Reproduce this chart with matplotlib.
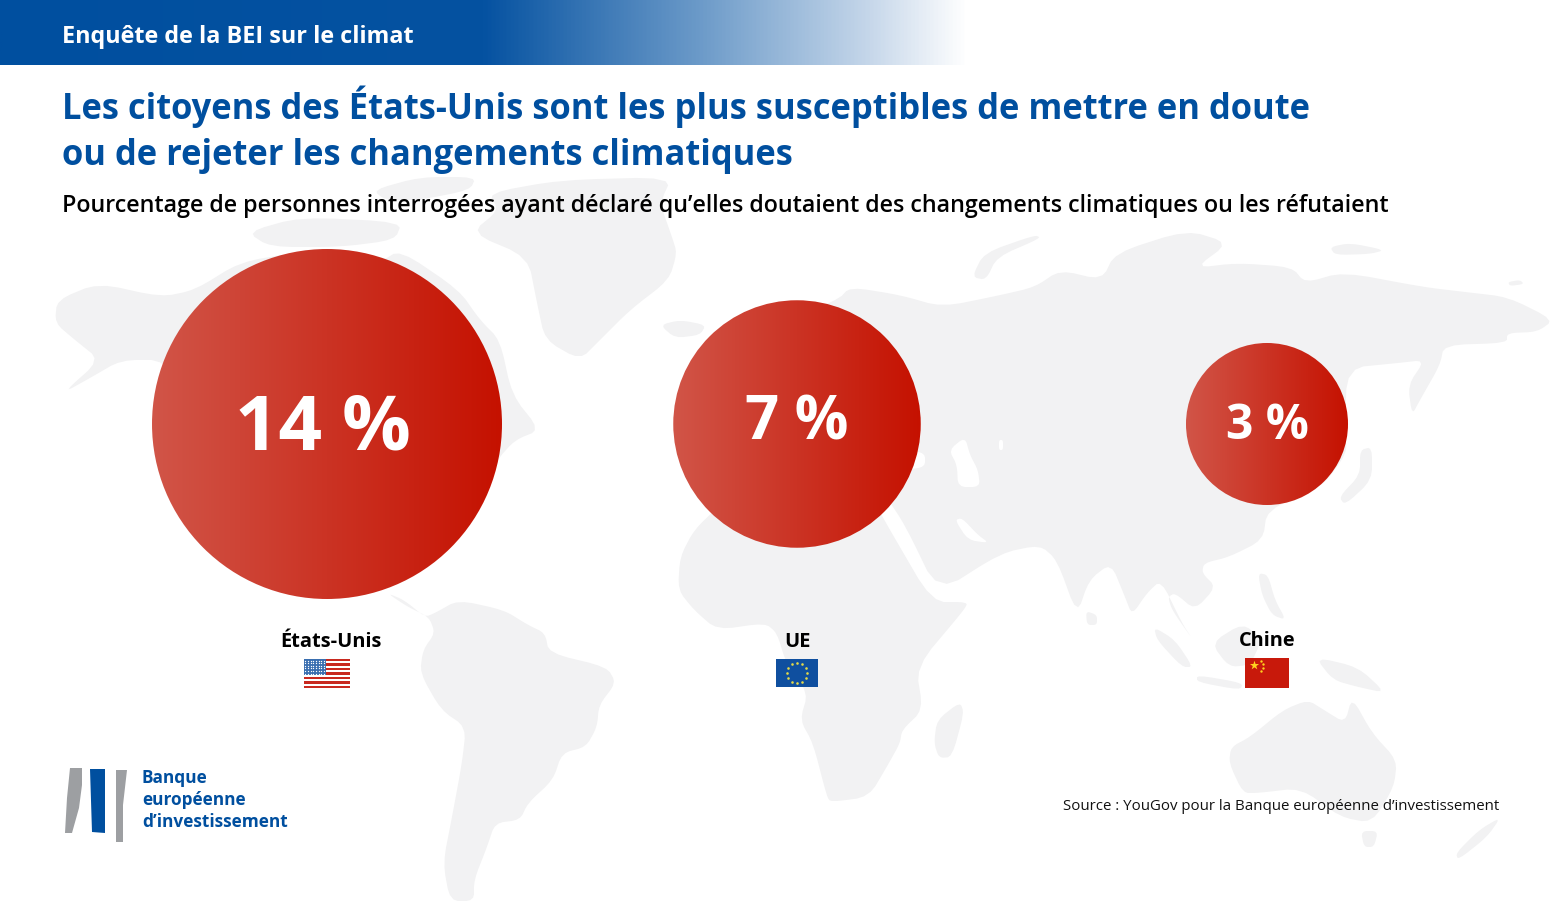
import numpy as np
import matplotlib
matplotlib.use("Agg")
import matplotlib.pyplot as plt
from matplotlib.colors import LinearSegmentedColormap
from matplotlib.patches import Circle, Polygon, Rectangle

W, H = 1561, 901
FONT = "Open Sans"

# ---- data ----
countries = ["États-Unis", "UE", "Chine"]
values = [14, 7, 3]
value_labels = ["14 %", "7 %", "3 %"]
header = "Enquête de la BEI sur le climat"
title_lines = ["Les citoyens des États-Unis sont les plus susceptibles de mettre en doute",
               "ou de rejeter les changements climatiques"]
subtitle = "Pourcentage de personnes interrogées ayant déclaré qu’elles doutaient des changements climatiques ou les réfutaient"
source = "Source : YouGov pour la Banque européenne d’investissement"
logo_lines = ["Banque", "européenne", "d’investissement"]

# ---- styles ----
BLUE = "#004f9f"
MAP = "#f2f2f3"
bubble_x = [327, 797, 1267]
bubble_y = 424
bubble_k = 46.77   # px per sqrt(percent)

# ---- decorative world map outlines (pixel space) ----
north_america = [(57,300),(98,283),(161,297),(195,290),(240,262),(300,252),(380,262),(400,250),(459,290),(480,320),
                 (500,340),(512,395),(540,430),(515,440),(497,460),(470,510),(440,560),(400,580),(383,590),(360,560),
                 (200,420),(166,360),(121,360),(90,378),(63,393),(100,360),(75,340),(55,323)]
arctic_a = [(247,232),(300,217),(402,222),(395,240),(340,247),(270,247)]
arctic_b = [(373,190),(420,177),(476,177),(470,190),(420,200),(385,200)]
greenland = [(488,193),(560,180),(672,177),(660,203),(672,237),(677,253),(669,280),(630,310),(600,340),(580,360),
             (545,340),(537,303),(528,257),(471,233),(499,210)]
iceland = [(660,325),(680,320),(706,325),(700,335),(675,338)]
central_south_america = [(387,593),(404,600),(425,617),(435,613),(458,600),(504,610),(528,625),(545,633),(549,653),
                         (607,667),(616,683),(599,705),(597,727),(586,747),(562,753),(553,780),(528,803),(520,820),
                         (495,823),(487,847),(474,880),(474,901),(450,901),(443,863),(452,817),(462,763),(466,727),
                         (441,710),(420,673),(423,650),(435,633),(429,617),(408,607)]
africa = [(694,530),(680,557),(678,590),(694,610),(717,630),(765,623),(777,633),(786,663),(808,693),(800,720),(813,743),
          (827,797),(831,802),(869,797),(889,763),(900,743),(902,730),(923,710),(916,667),(964,610),(968,602),(932,602),
          (890,530),(876,505),(720,505)]
madagascar = [(960,702),(964,713),(952,757),(939,758),(934,743),(937,720)]
eurasia = [(720,440),(720,350),(838,300),(850,287),(900,295),(942,307),(1001,295),(1035,287),(1060,270),(1102,280),
           (1115,253),(1187,230),(1229,243),(1195,268),(1237,263),(1292,267),(1305,283),(1343,272),(1423,287),(1465,292),
           (1508,297),(1554,320),(1537,332),(1507,333),(1507,343),(1444,345),(1440,365),(1420,400),(1412,415),(1408,385),
           (1425,360),(1398,363),(1347,368),(1345,433),(1347,453),(1322,487),(1267,510),(1263,540),(1229,557),(1204,563),
           (1202,573),(1216,587),(1195,610),(1175,593),(1168,597),(1172,610),(1193,640),(1182,623),(1161,580),(1147,593),
           (1132,615),(1125,597),(1111,563),(1089,580),(1077,615),(1057,560),(1040,545),(1001,553),(938,593),(905,525),(885,495)]
caspian = [(949,450),(965,437),(970,455),(978,470),(980,487),(958,487),(957,465)]
persian_gulf = [(955,520),(962,518),(978,535),(989,543),(968,540)]
black_sea = [(905,450),(925,453),(925,467),(905,470)]
aral = [(999,440),(1003,440),(1003,450),(999,450)]
novaya = [(972,277),(984,253),(1035,235),(1041,238),(997,257),(986,280)]
siberian_isl = [(1330,247),(1350,243),(1385,250),(1370,254),(1335,255)]
wrangel = [(1508,282),(1520,280),(1524,284),(1510,286)]
japan = [(1339,497),(1360,475),(1360,450),(1372,447),(1372,480),(1345,505)]
sri_lanka = [(1086,611),(1097,615),(1097,625),(1087,625)]
sumatra = [(1154,627),(1175,640),(1193,667),(1182,667),(1157,640)]
borneo = [(1211,643),(1243,623),(1262,640),(1250,665),(1229,667)]
java = [(1197,675),(1243,683),(1240,690),(1197,682)]
philippines = [(1258,573),(1268,575),(1275,600),(1286,620),(1272,615),(1262,595)]
papua = [(1315,657),(1358,667),(1386,693),(1358,687),(1333,680)]
australia = [(1231,747),(1229,763),(1243,793),(1258,793),(1301,788),(1340,817),(1372,823),(1394,787),(1397,760),(1372,733),
             (1352,697),(1345,723),(1324,710),(1308,700),(1283,710),(1250,737)]
tasmania = [(1361,831),(1378,831),(1374,847),(1364,847)]
new_zealand = [(1501,817),(1487,837),(1458,860),(1456,853),(1479,830)]
land = [north_america, arctic_a, arctic_b, greenland, iceland, central_south_america, africa, madagascar, eurasia, novaya,
        siberian_isl, wrangel, japan, sri_lanka, sumatra, borneo, java, philippines, papua, australia, tasmania, new_zealand]
lakes = [caspian, persian_gulf, black_sea, aral]

logo_left = [(70,768),(82,768),(82,785),(79,808),(72,833),(65,833),(67,798)]
logo_mid = [(90,769),(105,769),(105,833),(92,832)]
logo_right = [(116,770),(127,770),(123,805),(123,842),(116,842)]


def rounded(poly, passes=2):
    """Round the corners of a hand-traced outline."""
    pts = np.asarray(poly, float)
    for _ in range(passes):
        nxt = np.roll(pts, -1, axis=0)
        pts = np.column_stack([0.8*pts + 0.2*nxt, 0.2*pts + 0.8*nxt]).reshape(-1, 2)
    return pts


# ---- figure ----
fig = plt.figure(figsize=(W/100, H/100), dpi=100, facecolor="white")
ax = fig.add_axes([0, 0, 1, 1])
ax.set_axis_off()

for poly in land:
    ax.add_patch(Polygon(rounded(poly), closed=True, fc=MAP, ec="none", zorder=1))
for poly in lakes:
    ax.add_patch(Polygon(rounded(poly), closed=True, fc="white", ec="none", zorder=1.1))

# header band
hdr_cmap = LinearSegmentedColormap.from_list("h", [(0, BLUE), (0.5, "#0552a1"), (0.72, "#6a99c8"), (0.9, "#c6d7ea"), (1, "#ffffff")])
ax.imshow(np.linspace(0, 1, 512)[None, :], extent=(0, 968, 65, 0), cmap=hdr_cmap, aspect="auto", zorder=2)

# bubbles
bub_cmap = LinearSegmentedColormap.from_list("b", ["#d15548", "#c51100"])
for x, v in zip(bubble_x, values):
    r = bubble_k * np.sqrt(v)
    im = ax.imshow(np.linspace(0, 1, 256)[None, :], extent=(x-r, x+r, bubble_y+r, bubble_y-r),
                   cmap=bub_cmap, aspect="auto", zorder=3)
    im.set_clip_path(Circle((x, bubble_y), r, transform=ax.transData))

ax.set_xlim(0, W)
ax.set_ylim(H, 0)


def put(x, y, s, size, color="black", weight="bold", ha="left", va="baseline", family=FONT):
    return ax.text(x, y, s, fontsize=size, color=color, fontweight=weight, ha=ha, va=va, family=family, zorder=6)


put(62, 43, header, 16.85, "white")
put(62, 119, title_lines[0], 24.86, BLUE)
put(62, 165, title_lines[1], 24.86, BLUE)
put(62, 212, subtitle, 16.73, "black", weight=600)

put(323, 450, value_labels[0], 55, "white", ha="center")
put(797, 440, value_labels[1], 43, "white", ha="center")
put(1267, 439, value_labels[2], 34.5, "white", ha="center")

put(330.5, 647, countries[0], 14.4, ha="center")
put(797, 647, countries[1], 14.4, ha="center")
put(1267, 646, countries[2], 14.4, ha="center")
put(1499, 810, source, 10.78, "#111111", weight="normal", ha="right")

# logo
ax.add_patch(Polygon(logo_left, fc="#9d9fa2", ec="none", zorder=5))
ax.add_patch(Polygon(logo_mid, fc=BLUE, ec="none", zorder=5))
ax.add_patch(Polygon(logo_right, fc="#9d9fa2", ec="none", zorder=5))
for yy, s in zip([783, 805, 827], logo_lines):
    put(142, yy, s, 12.4, BLUE)

# flags
# USA
x0, y0, fw, fh = 304, 659, 46, 29
for i in range(13):
    ax.add_patch(Rectangle((x0, y0+i*fh/13), fw, fh/13, fc="#c8291f" if i % 2 == 0 else "white", ec="none", zorder=5))
ax.add_patch(Rectangle((x0, y0), fw*0.47, fh*7/13, fc="#3a6fb0", ec="none", zorder=5.1))
sx, sy = np.meshgrid(np.arange(x0+1.5, x0+fw*0.47, 2.6), np.arange(y0+1.5, y0+fh*7/13, 2.6))
ax.scatter(sx.ravel(), sy.ravel(), s=0.9, c="white", lw=0, zorder=5.2)
# EU
ax.add_patch(Rectangle((776, 659), 42, 28, fc="#0f4f9f", ec="none", zorder=5))
ang = np.arange(12) * np.pi / 6
ax.scatter(797 + 10*np.cos(ang), 673 + 10*np.sin(ang), s=3.5, c="#e3d94a", lw=0, zorder=5.2)
# China
ax.add_patch(Rectangle((1245, 658), 44, 30, fc="#c8190b", ec="none", zorder=5))
ax.scatter([1254], [665], s=48, marker="*", c="#ffd21f", lw=0, zorder=5.2)
ax.scatter([1261, 1263, 1263, 1261], [661, 664, 668, 671], s=3, c="#ffd21f", lw=0, zorder=5.2)

fig.savefig("out.png", dpi=100, facecolor="white")
